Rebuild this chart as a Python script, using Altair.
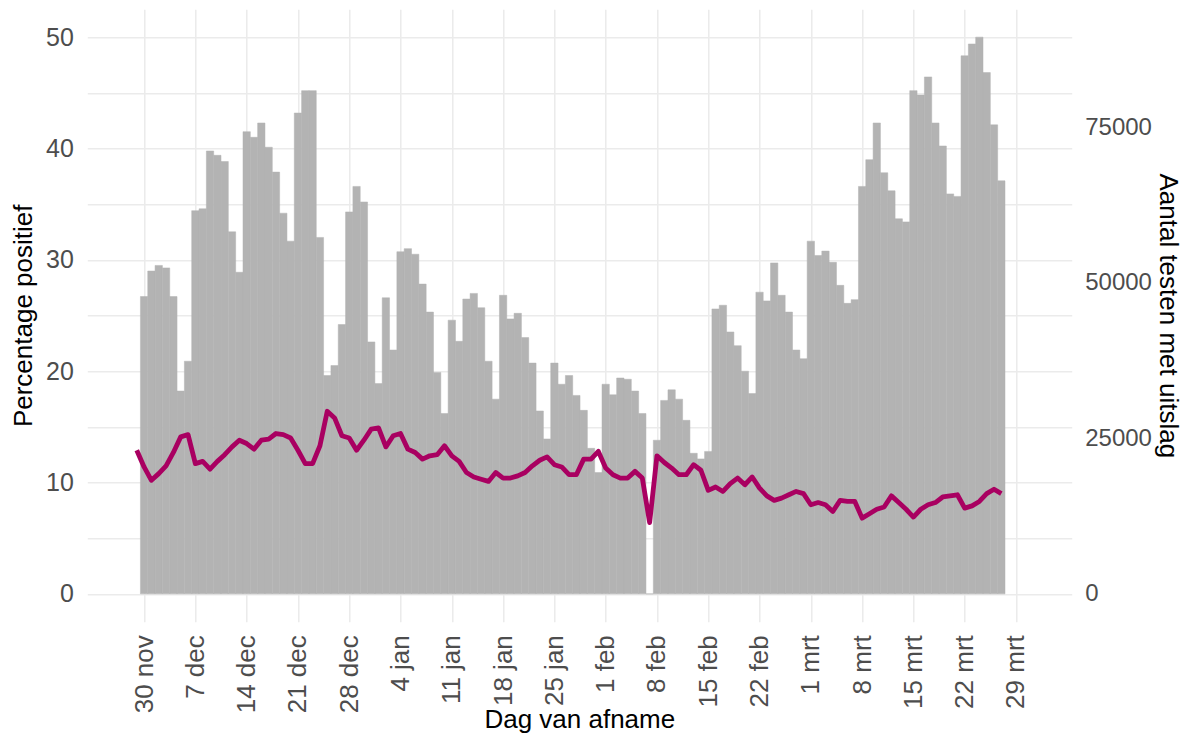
import altair as alt
import pandas as pd

# ---- data ----
LINE_START = "2020-11-29"
PCT_POS = [
    12.9, 11.4,
    10.2, 10.8, 11.5, 12.7, 14.1, 14.3, 11.7, 11.9, 11.2, 11.9, 12.5, 13.2, 13.8, 13.5,
    13.0, 13.8, 13.9, 14.4, 14.3, 14.0, 12.9, 11.7, 11.7, 13.3, 16.4, 15.8, 14.2, 14.0,
    12.9, 13.8, 14.8,
    14.9, 13.2, 14.2, 14.4, 13.0, 12.7, 12.1, 12.4, 12.5, 13.3, 12.4, 11.9, 10.9, 10.5,
    10.3, 10.1, 10.9, 10.4, 10.4, 10.6, 10.9, 11.5, 12.0, 12.3, 11.6, 11.4, 10.7, 10.7,
    12.1, 12.1, 12.8,
    11.3, 10.7, 10.4, 10.4, 11.0, 10.4, 6.4, 12.4, 11.8, 11.3, 10.7, 10.7, 11.6, 11.1,
    9.3, 9.6, 9.2, 9.9, 10.4, 9.8, 10.5, 9.5, 8.8, 8.4, 8.6, 8.9, 9.2, 9.0,
    8.0, 8.2, 8.0, 7.4, 8.4, 8.3, 8.3, 6.8, 7.2, 7.6, 7.8, 8.8, 8.2, 7.6, 6.9, 7.6,
    8.0, 8.2, 8.7, 8.8, 8.9, 7.7, 7.9, 8.3, 9.0, 9.4, 9.0,
]

BAR_START = "2020-11-30"
TESTS = [
    47800,
    51900, 52800, 52400, 47800, 32600, 37400, 61600, 61900, 71200, 70500, 69500, 58200,
    51700, 74300, 73400, 75700, 71800, 67800, 61200, 56700, 77300, 80900, 80900, 57300,
    35100, 36700, 43300, 61400, 65500, 63000, 40500,
    33800, 47600, 39200, 55000, 55500, 54600, 49800, 45300, 35600, 29000, 44000, 40600,
    47400, 48300, 46000, 37400, 31300, 48000, 44200, 45100, 41200, 37100, 29400, 24900,
    37100, 33700, 35100, 31900, 29500, 23400, 19500,
    33700, 32000, 34700, 34500, 32600, 29000, 0, 24700, 31100, 32800, 31300, 27900,
    22600, 21700, 22900, 45800, 46400, 42100, 39900, 35800, 32200, 48500, 47100, 53200,
    48000, 45300, 39200, 37800,
    56700, 54400, 55100, 53300, 49600, 46700, 47300, 65500, 69800, 75700, 67700, 64800,
    60300, 59800, 80900, 80200, 83100, 75700, 72000, 64300, 63900, 86500, 88400, 89500,
    83800, 75400, 66400,
]

TICK_START = "2020-11-30"
TICK_LABELS = ["30 nov", "7 dec", "14 dec", "21 dec", "28 dec", "4 jan", "11 jan",
               "18 jan", "25 jan", "1 feb", "8 feb", "15 feb", "22 feb", "1 mrt",
               "8 mrt", "15 mrt", "22 mrt", "29 mrt"]
PCT_TICKS = [0, 5, 10, 15, 20, 25, 30, 35, 40, 45, 50]
TEST_TICKS = [0, 25000, 50000, 75000]
RATIO = 1790  # tests per percentage point (secondary axis factor)

# ---- tables ----
fmt = "%Y-%m-%dT%H:%M:%SZ"
line_dates = pd.date_range(LINE_START, periods=len(PCT_POS), freq="D")
line_df = pd.DataFrame({
    "date": [d.strftime(fmt) for d in line_dates],
    "pct": PCT_POS,
})
bar_dates = pd.date_range(BAR_START, periods=len(TESTS), freq="D")
half = pd.Timedelta(hours=12)
bar_df = pd.DataFrame({
    "start": [(d - half).strftime(fmt) for d in bar_dates],
    "end": [(d + half).strftime(fmt) for d in bar_dates],
    "tests": TESTS,
})

tick_dates = pd.date_range(TICK_START, periods=len(TICK_LABELS), freq="7D")
tick_values = [alt.DateTime(year=d.year, month=d.month, date=d.day, utc=True) for d in tick_dates]
t0_ms = int(pd.Timestamp(TICK_START, tz="UTC").timestamp() * 1000)
label_arr = "[" + ",".join("'" + s + "'" for s in TICK_LABELS) + "]"
x_label_expr = f"{label_arr}[round((datum.value - {t0_ms}) / 604800000)]"

FONT = "Liberation Sans"
GRID = "#EBEBEB"
LABEL_COLOR = "#4D4D4D"
LABEL_SIZE = 25
TITLE_SIZE = 26

x_scale = alt.Scale(
    type="utc",
    domain=[alt.DateTime(year=2020, month=11, date=22, hours=6, utc=True),
            alt.DateTime(year=2021, month=4, date=5, hours=14, minutes=30, utc=True)],
    nice=False,
)
x_axis = alt.Axis(
    values=tick_values, labelExpr=x_label_expr, labelAngle=270, labelAlign="right",
    labelBaseline="middle", labelPadding=13, labelFontSize=26, labelColor=LABEL_COLOR,
    labelOverlap=False, ticks=False, tickSize=0, domain=False, grid=True, gridColor=GRID,
    gridWidth=1.5, title="Dag van afname", titleFontSize=TITLE_SIZE, titleFontWeight="normal",
    titleColor="#000000", titleX=492, titleY=106, titleAlign="center",
    titleBaseline="alphabetic", titleAnchor="middle",
)

Y_LO, Y_HI = -2.5, 52.5

bars = alt.Chart(bar_df).mark_bar(color="#B3B3B3", stroke="#B3B3B3", strokeWidth=0.5).encode(
    x=alt.X("start:T", scale=x_scale, axis=x_axis),
    x2="end:T",
    y=alt.Y("tests:Q",
            scale=alt.Scale(domain=[Y_LO * RATIO, Y_HI * RATIO], nice=False, zero=False),
            axis=alt.Axis(orient="right", values=TEST_TICKS, format="d", grid=False,
                          ticks=False, tickSize=0, domain=False, labelPadding=13,
                          labelFontSize=24, labelColor=LABEL_COLOR,
                          title="Aantal testen met uitslag", titleFontSize=TITLE_SIZE,
                          titleFontWeight="normal", titleColor="#000000", titleAngle=90,
                          titleX=95.5, titleY=306, titleAlign="center",
                          titleBaseline="middle")),
    y2=alt.datum(0),
)

line = alt.Chart(line_df).mark_line(color="#A90061", strokeWidth=4.8, strokeJoin="round").encode(
    x=alt.X("date:T", scale=x_scale, axis=x_axis),
    y=alt.Y("pct:Q",
            scale=alt.Scale(domain=[Y_LO, Y_HI], nice=False, zero=False),
            axis=alt.Axis(orient="left", values=PCT_TICKS,
                          labelExpr="datum.value % 10 === 0 ? datum.label : ''",
                          grid=True, gridColor=GRID, gridWidth=1.5, ticks=False, tickSize=0,
                          domain=False, labelPadding=14, labelFontSize=LABEL_SIZE,
                          labelColor=LABEL_COLOR, labelOverlap=False,
                          title="Percentage positief", titleFontSize=TITLE_SIZE,
                          titleFontWeight="normal", titleColor="#000000", titleAngle=270,
                          titleX=-64, titleY=306, titleAlign="center",
                          titleBaseline="middle")),
)

chart = alt.layer(bars, line).resolve_scale(y="independent").properties(
    width=984.4,
    height=612.4,
    autosize=alt.AutoSizeParams(type="none"),
    padding={"left": 79.3, "top": 1.3, "right": 112.3, "bottom": 112.3},
    background="white",
).configure_view(strokeWidth=0).configure_axis(labelFont=FONT, titleFont=FONT)

chart.save("out.html", embed_options={"renderer": "svg", "actions": False})
